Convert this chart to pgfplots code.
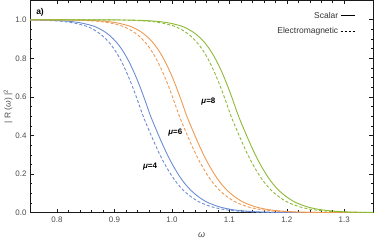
\documentclass[border=0pt]{standalone}
\usepackage{pgfplots}
\pgfplotsset{compat=1.18}
\usepackage{pgfplotstable}
\usepackage{fontspec}
\setmainfont{Liberation Sans}
\definecolor{mblue}{HTML}{6A8DD3}
\definecolor{morange}{HTML}{EE9A52}
\definecolor{mgreen}{HTML}{8DBA35}

% mu=4 scalar
\pgfplotstableread{
x R
0.513 1.0
0.713 0.9998
0.763 0.9989
0.783 0.9978
0.803 0.9957
0.823 0.9915
0.843 0.983
0.863 0.968
0.873 0.955
0.883 0.938
0.893 0.915
0.903 0.885
0.913 0.846
0.923 0.796
0.933 0.735
0.943 0.664
0.953 0.584
0.963 0.5
0.973 0.428
0.983 0.359
0.993 0.295
1.003 0.239
1.013 0.190
1.023 0.149
1.033 0.116
1.043 0.090
1.053 0.069
1.063 0.052
1.083 0.030
1.103 0.017
1.123 0.0096
1.143 0.0054
1.163 0.0030
1.213 0.0007
1.263 0.0002
1.413 0.0
}\bs
% mu=4 electromagnetic
\pgfplotstableread{
x R
0.500 1.0
0.700 0.9998
0.750 0.9989
0.770 0.9978
0.790 0.9957
0.810 0.9915
0.830 0.983
0.850 0.968
0.860 0.955
0.870 0.938
0.880 0.915
0.890 0.885
0.900 0.846
0.910 0.796
0.920 0.735
0.930 0.664
0.940 0.584
0.950 0.5
0.960 0.428
0.970 0.359
0.980 0.295
0.990 0.239
1.000 0.190
1.010 0.149
1.020 0.116
1.030 0.090
1.040 0.069
1.050 0.052
1.070 0.030
1.090 0.017
1.110 0.0096
1.130 0.0054
1.150 0.0030
1.200 0.0007
1.250 0.0002
1.400 0.0
}\bd
% mu=6 scalar
\pgfplotstableread{
x R
0.576 1.0
0.776 0.9998
0.826 0.9989
0.846 0.9978
0.866 0.9957
0.886 0.9915
0.906 0.983
0.926 0.968
0.936 0.955
0.946 0.938
0.956 0.915
0.966 0.885
0.976 0.846
0.986 0.796
0.996 0.735
1.006 0.664
1.016 0.584
1.026 0.5
1.036 0.428
1.046 0.359
1.056 0.295
1.066 0.239
1.076 0.190
1.086 0.149
1.096 0.116
1.106 0.090
1.116 0.069
1.126 0.052
1.146 0.030
1.166 0.017
1.186 0.0096
1.206 0.0054
1.226 0.0030
1.276 0.0007
1.326 0.0002
1.476 0.0
}\os
% mu=6 electromagnetic
\pgfplotstableread{
x R
0.563 1.0
0.763 0.9998
0.813 0.9989
0.833 0.9978
0.853 0.9957
0.873 0.9915
0.893 0.983
0.913 0.968
0.923 0.955
0.933 0.938
0.943 0.915
0.953 0.885
0.963 0.846
0.973 0.796
0.983 0.735
0.993 0.664
1.003 0.584
1.013 0.5
1.023 0.428
1.033 0.359
1.043 0.295
1.053 0.239
1.063 0.190
1.073 0.149
1.083 0.116
1.093 0.090
1.103 0.069
1.113 0.052
1.133 0.030
1.153 0.017
1.173 0.0096
1.193 0.0054
1.213 0.0030
1.263 0.0007
1.313 0.0002
1.463 0.0
}\od
% mu=8 scalar
\pgfplotstableread{
x R
0.666 1.0
0.866 0.9998
0.916 0.9989
0.936 0.9978
0.956 0.9957
0.976 0.9915
0.996 0.983
1.016 0.968
1.026 0.955
1.036 0.938
1.046 0.915
1.056 0.885
1.066 0.846
1.076 0.796
1.086 0.735
1.096 0.664
1.106 0.584
1.116 0.5
1.126 0.428
1.136 0.359
1.146 0.295
1.156 0.239
1.166 0.190
1.176 0.149
1.186 0.116
1.196 0.090
1.206 0.069
1.216 0.052
1.236 0.030
1.256 0.017
1.276 0.0096
1.296 0.0054
1.316 0.0030
1.366 0.0007
1.416 0.0002
1.566 0.0
}\gs
% mu=8 electromagnetic
\pgfplotstableread{
x R
0.653 1.0
0.853 0.9998
0.903 0.9989
0.923 0.9978
0.943 0.9957
0.963 0.9915
0.983 0.983
1.003 0.968
1.013 0.955
1.023 0.938
1.033 0.915
1.043 0.885
1.053 0.846
1.063 0.796
1.073 0.735
1.083 0.664
1.093 0.584
1.103 0.5
1.113 0.428
1.123 0.359
1.133 0.295
1.143 0.239
1.153 0.190
1.163 0.149
1.173 0.116
1.183 0.090
1.193 0.069
1.203 0.052
1.223 0.030
1.243 0.017
1.263 0.0096
1.283 0.0054
1.303 0.0030
1.353 0.0007
1.403 0.0002
1.553 0.0
}\gd

\begin{document}
\begin{tikzpicture}
\begin{axis}[
  name=ax,
  scale only axis,
  width=343bp, height=212.2bp,
  xmin=0.753, xmax=1.35,
  ymin=0, ymax=1.1,
  xtick={0.8,0.9,1.0,1.1,1.2,1.3},
  xticklabels={0.8,0.9,1.0,1.1,1.2,1.3},
  ytick={0,0.2,0.4,0.6,0.8,1.0},
  yticklabels={0.0,0.2,0.4,0.6,0.8,1.0},
  minor x tick num=4,
  minor y tick num=3,
  tick align=inside,
  major tick length=4bp,
  minor tick length=2.2bp,
  axis line style={black!90, line width=0.8pt},
  every tick/.style={black!90, line width=0.6pt},
  tick label style={font=\fontsize{8}{9}\selectfont, text=black!70},
  /pgf/number format/assume math mode=true,
  xticklabel style={yshift=-1bp},
  every axis x label/.style={at={(axis description cs:0.5,0)}, yshift=-22bp, anchor=center},
  every axis y label/.style={at={(axis description cs:0,0.5)}, xshift=-22bp, rotate=90, anchor=center},
  xlabel={\fontsize{9}{10}\selectfont\textcolor{black!70}{\textit{ω}}},
  ylabel={\fontsize{8.5}{10}\selectfont\textcolor{black!70}{| R (\textit{ω}) |\textsuperscript{2}}},
  legend plot pos=right,
  legend cell align=right,
  legend style={draw=none, fill=none, at={(0.957,0.965)}, anchor=north east,
    font=\fontsize{8.5}{10}\selectfont, row sep=3.5bp, text=black!80},
  legend image code/.code={\draw[#1] (0bp,0bp) -- (14bp,0bp);},
  clip=true,
]
\addlegendimage{black, line width=0.9pt}
\addlegendentry{Scalar}
\addlegendimage{black, line width=0.9pt, dash pattern=on 2.5bp off 1.5bp}
\addlegendentry{Electromagnetic}

\addplot[forget plot, mblue, line width=0.9pt, smooth] table[x=x,y=R]{\bs};
\addplot[forget plot, mblue, line width=0.9pt, smooth, dash pattern=on 3bp off 2bp] table[x=x,y=R]{\bd};
\addplot[forget plot, morange, line width=0.9pt, smooth] table[x=x,y=R]{\os};
\addplot[forget plot, morange, line width=0.9pt, smooth, dash pattern=on 3bp off 2bp] table[x=x,y=R]{\od};
\addplot[forget plot, mgreen, line width=0.9pt, smooth] table[x=x,y=R]{\gs};
\addplot[forget plot, mgreen, line width=0.9pt, smooth, dash pattern=on 3bp off 2bp] table[x=x,y=R]{\gd};

\node[font=\fontsize{8}{9}\selectfont\bfseries] at (axis cs:0.962,0.237) {\textit{μ}=4};
\node[font=\fontsize{8}{9}\selectfont\bfseries] at (axis cs:1.006,0.414) {\textit{μ}=6};
\node[font=\fontsize{8}{9}\selectfont\bfseries] at (axis cs:1.0635,0.577) {\textit{μ}=8};
\node[font=\fontsize{8.5}{10}\selectfont\bfseries, anchor=west] at (rel axis cs:0.008,0.942) {a)};
\end{axis}
\pgfresetboundingbox
\path ([shift={(-30bp,-27.3bp)}]ax.south west) rectangle ([shift={(1bp,0.5bp)}]ax.north east);
\end{tikzpicture}
\end{document}
